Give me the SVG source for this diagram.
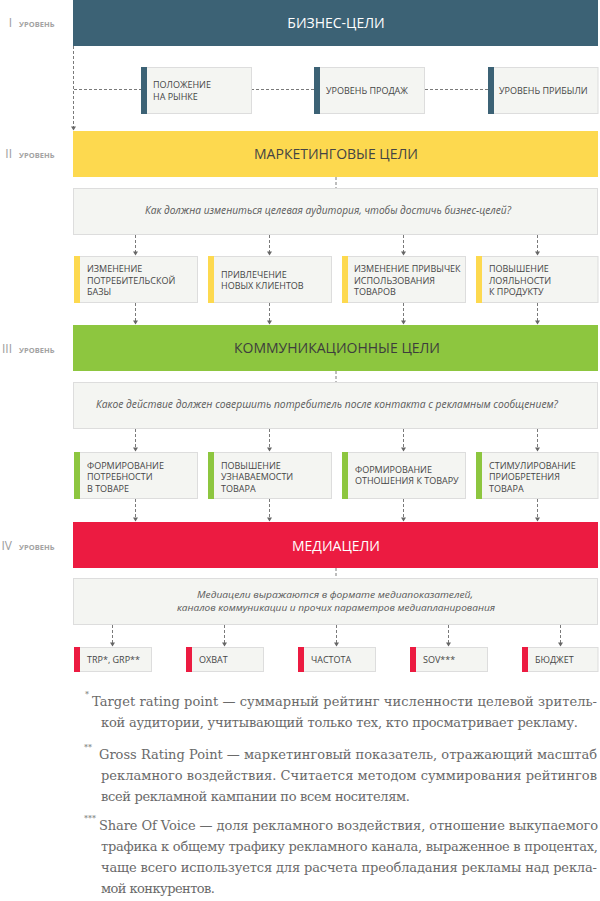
<svg xmlns="http://www.w3.org/2000/svg" width="600" height="901" viewBox="0 0 600 901">
<style>
.bt{font-family:"Open Sans","DejaVu Sans",sans-serif;font-size:14px;text-anchor:middle}
.lb{font-family:"Open Sans","DejaVu Sans",sans-serif;font-size:9px;fill:#464646}
.q{font-family:"Open Sans","DejaVu Sans",sans-serif;font-style:italic;font-size:10px;fill:#595959}
.q3{font-size:9.5px}
.box{fill:#f4f5f2;stroke:#dddddd;stroke-width:1}
.conn{stroke:#7a7a7a;stroke-width:1;stroke-dasharray:3 2;fill:none}
.num{font-family:"Open Sans","DejaVu Sans",sans-serif;font-size:12px;fill:#9c9c9c;text-anchor:end}
.lvl{font-family:"Open Sans","DejaVu Sans",sans-serif;font-size:7.5px;font-weight:bold;fill:#a3a3a3}
.fn{font-family:"DejaVu Serif","Liberation Serif",serif;font-size:13px;fill:#6a6a6a}
.fm{font-family:"DejaVu Serif","Liberation Serif",serif;font-size:8px;fill:#6a6a6a}
.a1{fill:#3c6275}.a2{fill:#fdd94f}.a3{fill:#8dc63f}.a4{fill:#ec1b41}
</style>
<defs>
<marker id="ad" markerUnits="userSpaceOnUse" markerWidth="6" markerHeight="6" viewBox="0 0 6 6" refX="3" refY="5" orient="0">
<path d="M0.5,1.5 L5.5,1.5 L3,5.5 Z" fill="#666666"/>
</marker>
</defs>

<g id="levels">
<text class="num" x="12" y="27">I</text><text class="lvl" x="19" y="27">УРОВЕНЬ</text>
<text class="num" x="12" y="158">II</text><text class="lvl" x="19" y="158">УРОВЕНЬ</text>
<text class="num" x="12" y="353">III</text><text class="lvl" x="19" y="353">УРОВЕНЬ</text>
<text class="num" x="12" y="550">IV</text><text class="lvl" x="19" y="550">УРОВЕНЬ</text>
</g>

<g id="connectors">
<line class="conn" x1="73.5" y1="46" x2="73.5" y2="130" marker-end="url(#ad)"/>
<line class="conn" x1="74" y1="89.5" x2="141" y2="89.5"/>
<line class="conn" x1="251" y1="89.5" x2="314" y2="89.5"/>
<line class="conn" x1="425" y1="89.5" x2="488" y2="89.5"/>
<line class="conn" x1="336" y1="177" x2="336" y2="188"/>
<line class="conn" x1="135.5" y1="235" x2="135.5" y2="255" marker-end="url(#ad)"/>
<line class="conn" x1="269.5" y1="235" x2="269.5" y2="255" marker-end="url(#ad)"/>
<line class="conn" x1="403.5" y1="235" x2="403.5" y2="255" marker-end="url(#ad)"/>
<line class="conn" x1="537.5" y1="235" x2="537.5" y2="255" marker-end="url(#ad)"/>
<line class="conn" x1="135.5" y1="303" x2="135.5" y2="324" marker-end="url(#ad)"/>
<line class="conn" x1="269.5" y1="303" x2="269.5" y2="324" marker-end="url(#ad)"/>
<line class="conn" x1="403.5" y1="303" x2="403.5" y2="324" marker-end="url(#ad)"/>
<line class="conn" x1="537.5" y1="303" x2="537.5" y2="324" marker-end="url(#ad)"/>
<line class="conn" x1="336" y1="371" x2="336" y2="382"/>
<line class="conn" x1="135.5" y1="429" x2="135.5" y2="451" marker-end="url(#ad)"/>
<line class="conn" x1="269.5" y1="429" x2="269.5" y2="451" marker-end="url(#ad)"/>
<line class="conn" x1="403.5" y1="429" x2="403.5" y2="451" marker-end="url(#ad)"/>
<line class="conn" x1="537.5" y1="429" x2="537.5" y2="451" marker-end="url(#ad)"/>
<line class="conn" x1="135.5" y1="499" x2="135.5" y2="521" marker-end="url(#ad)"/>
<line class="conn" x1="269.5" y1="499" x2="269.5" y2="521" marker-end="url(#ad)"/>
<line class="conn" x1="403.5" y1="499" x2="403.5" y2="521" marker-end="url(#ad)"/>
<line class="conn" x1="537.5" y1="499" x2="537.5" y2="521" marker-end="url(#ad)"/>
<line class="conn" x1="336" y1="568" x2="336" y2="578"/>
<line class="conn" x1="112.5" y1="625" x2="112.5" y2="646" marker-end="url(#ad)"/>
<line class="conn" x1="224.5" y1="625" x2="224.5" y2="646" marker-end="url(#ad)"/>
<line class="conn" x1="336.5" y1="625" x2="336.5" y2="646" marker-end="url(#ad)"/>
<line class="conn" x1="448.5" y1="625" x2="448.5" y2="646" marker-end="url(#ad)"/>
<line class="conn" x1="560.5" y1="625" x2="560.5" y2="646" marker-end="url(#ad)"/>
</g>

<g id="bar1"><rect x="73" y="0" width="525" height="46" fill="#3c6275"/><text class="bt" x="336" y="28" fill="#ffffff">БИЗНЕС-ЦЕЛИ</text></g>
<g id="b1-1"><rect class="box" x="141.5" y="67.5" width="110" height="46"/><rect class="a1" x="141" y="67" width="6" height="47"/><text class="lb" x="153" y="88">ПОЛОЖЕНИЕ</text><text class="lb" x="153" y="100">НА РЫНКЕ</text></g>
<g id="b1-2"><rect class="box" x="314.5" y="67.5" width="110" height="46"/><rect class="a1" x="314" y="67" width="6" height="47"/><text class="lb" x="326" y="94">УРОВЕНЬ ПРОДАЖ</text></g>
<g id="b1-3"><rect class="box" x="488.5" y="67.5" width="109.5" height="46"/><rect class="a1" x="488" y="67" width="6" height="47"/><text class="lb" x="499" y="94">УРОВЕНЬ ПРИБЫЛИ</text></g>

<g id="bar2"><rect x="73" y="131" width="525" height="46" fill="#fdd94f"/><text class="bt" x="336" y="159" fill="#444444">МАРКЕТИНГОВЫЕ ЦЕЛИ</text></g>
<g id="q1"><rect class="box" x="73.5" y="188.5" width="524" height="46"/><text class="q" x="145" y="214" textLength="366" lengthAdjust="spacingAndGlyphs">Как должна измениться целевая аудитория, чтобы достичь бизнес-целей?</text></g>
<g id="b2-1"><rect class="box" x="74.5" y="256.5" width="123" height="46"/><rect class="a2" x="74" y="256" width="6" height="47"/><text class="lb" x="87" y="272">ИЗМЕНЕНИЕ</text><text class="lb" x="87" y="283.5">ПОТРЕБИТЕЛЬСКОЙ</text><text class="lb" x="87" y="295">БАЗЫ</text></g>
<g id="b2-2"><rect class="box" x="208.5" y="256.5" width="123" height="46"/><rect class="a2" x="208" y="256" width="6" height="47"/><text class="lb" x="221" y="277.5">ПРИВЛЕЧЕНИЕ</text><text class="lb" x="221" y="289">НОВЫХ КЛИЕНТОВ</text></g>
<g id="b2-3"><rect class="box" x="342.5" y="256.5" width="123" height="46"/><rect class="a2" x="342" y="256" width="6" height="47"/><text class="lb" x="354" y="272">ИЗМЕНЕНИЕ ПРИВЫЧЕК</text><text class="lb" x="354" y="283.5">ИСПОЛЬЗОВАНИЯ</text><text class="lb" x="354" y="295">ТОВАРОВ</text></g>
<g id="b2-4"><rect class="box" x="476.5" y="256.5" width="121.5" height="46"/><rect class="a2" x="476" y="256" width="6" height="47"/><text class="lb" x="489" y="272">ПОВЫШЕНИЕ</text><text class="lb" x="489" y="283.5">ЛОЯЛЬНОСТИ</text><text class="lb" x="489" y="295">К ПРОДУКТУ</text></g>

<g id="bar3"><rect x="73" y="325" width="525" height="46" fill="#8dc63f"/><text class="bt" x="337" y="353" fill="#3d3d3d">КОММУНИКАЦИОННЫЕ ЦЕЛИ</text></g>
<g id="q2"><rect class="box" x="73.5" y="382.5" width="524" height="46"/><text class="q" x="96" y="408" textLength="462" lengthAdjust="spacingAndGlyphs">Какое действие должен совершить потребитель после контакта с рекламным сообщением?</text></g>
<g id="b3-1"><rect class="box" x="74.5" y="452.5" width="123" height="46"/><rect class="a3" x="74" y="452" width="6" height="47"/><text class="lb" x="87" y="468.5">ФОРМИРОВАНИЕ</text><text class="lb" x="87" y="480">ПОТРЕБНОСТИ</text><text class="lb" x="87" y="491.5">В ТОВАРЕ</text></g>
<g id="b3-2"><rect class="box" x="208.5" y="452.5" width="123" height="46"/><rect class="a3" x="208" y="452" width="6" height="47"/><text class="lb" x="221" y="468.5">ПОВЫШЕНИЕ</text><text class="lb" x="221" y="480">УЗНАВАЕМОСТИ</text><text class="lb" x="221" y="491.5">ТОВАРА</text></g>
<g id="b3-3"><rect class="box" x="342.5" y="452.5" width="123" height="46"/><rect class="a3" x="342" y="452" width="6" height="47"/><text class="lb" x="355" y="472.5">ФОРМИРОВАНИЕ</text><text class="lb" x="355" y="484">ОТНОШЕНИЯ К ТОВАРУ</text></g>
<g id="b3-4"><rect class="box" x="476.5" y="452.5" width="121.5" height="46"/><rect class="a3" x="476" y="452" width="6" height="47"/><text class="lb" x="489" y="468.5">СТИМУЛИРОВАНИЕ</text><text class="lb" x="489" y="480">ПРИОБРЕТЕНИЯ</text><text class="lb" x="489" y="491.5">ТОВАРА</text></g>

<g id="bar4"><rect x="73" y="522" width="525" height="46" fill="#ec1b41"/><text class="bt" x="336" y="551" fill="#ffffff">МЕДИАЦЕЛИ</text></g>
<g id="q3"><rect class="box" x="73.5" y="578.5" width="524" height="46"/><text class="q q3" x="197" y="597.5" textLength="276" lengthAdjust="spacingAndGlyphs">Медиацели выражаются в формате медиапоказателей,</text><text class="q q3" x="177" y="610.5" textLength="318" lengthAdjust="spacingAndGlyphs">каналов коммуникации и прочих параметров медиапланирования</text></g>
<g id="b4-1"><rect class="box" x="74.5" y="647.5" width="77" height="24"/><rect class="a4" x="74" y="647" width="6" height="25"/><text class="lb" x="87" y="663">TRP*, GRP**</text></g>
<g id="b4-2"><rect class="box" x="186.5" y="647.5" width="77" height="24"/><rect class="a4" x="186" y="647" width="6" height="25"/><text class="lb" x="199" y="663">ОХВАТ</text></g>
<g id="b4-3"><rect class="box" x="298.5" y="647.5" width="77" height="24"/><rect class="a4" x="298" y="647" width="6" height="25"/><text class="lb" x="311" y="663">ЧАСТОТА</text></g>
<g id="b4-4"><rect class="box" x="410.5" y="647.5" width="77" height="24"/><rect class="a4" x="410" y="647" width="6" height="25"/><text class="lb" x="423" y="663">SOV***</text></g>
<g id="b4-5"><rect class="box" x="522.5" y="647.5" width="75.5" height="24"/><rect class="a4" x="522" y="647" width="6" height="25"/><text class="lb" x="535" y="663">БЮДЖЕТ</text></g>

<g id="footnotes">
<text class="fm" x="85" y="697">*</text>
<text class="fn" x="92" y="706" textLength="505" lengthAdjust="spacing">Target rating point — суммарный рейтинг численности целевой зритель-</text>
<text class="fn" x="101" y="727" textLength="477" lengthAdjust="spacing">кой аудитории, учитывающий только тех, кто просматривает рекламу.</text>
<text class="fm" x="84" y="750">**</text>
<text class="fn" x="99" y="759" textLength="498" lengthAdjust="spacing">Gross Rating Point — маркетинговый показатель, отражающий масштаб</text>
<text class="fn" x="101" y="780" textLength="496" lengthAdjust="spacing">рекламного воздействия. Считается методом суммирования рейтингов</text>
<text class="fn" x="101" y="801" textLength="309" lengthAdjust="spacing">всей рекламной кампании по всем носителям.</text>
<text class="fm" x="84" y="821">***</text>
<text class="fn" x="99" y="830" textLength="499" lengthAdjust="spacing">Share Of Voice — доля рекламного воздействия, отношение выкупаемого</text>
<text class="fn" x="101" y="851" textLength="497" lengthAdjust="spacing">трафика к общему трафику рекламного канала, выраженное в процентах,</text>
<text class="fn" x="101" y="872" textLength="496" lengthAdjust="spacing">чаще всего используется для расчета преобладания рекламы над рекла-</text>
<text class="fn" x="101" y="893" textLength="114" lengthAdjust="spacing">мой конкурентов.</text>
</g>
</svg>
